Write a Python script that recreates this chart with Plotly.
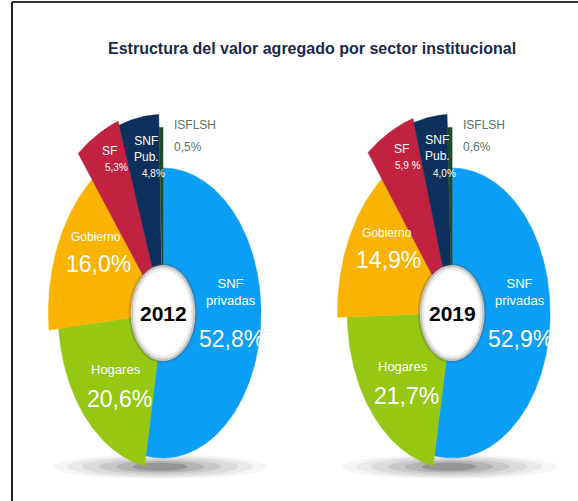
import numpy as np
import plotly.graph_objects as go

# ---------------- data ----------------
sectors = ["SNF privadas", "Hogares", "Gobierno", "SF", "SNF Pub.", "ISFLSH"]
sector_labels = ["SNF<br>privadas", "Hogares", "Gobierno", "SF", "SNF<br>Pub.", "ISFLSH"]
years = ["2012", "2019"]
values_2012 = [52.8, 20.6, 16.0, 5.3, 4.8, 0.5]
values_2019 = [52.9, 21.7, 14.9, 5.9, 4.0, 0.6]
value_text_2012 = ["52,8%", "20,6%", "16,0%", "5,3%", "4,8%", "0,5%"]
value_text_2019 = ["52,9%", "21,7%", "14,9%", "5,9 %", "4,0%", "0,6%"]
title = "Estructura del valor agregado por sector institucional"

# ---------------- style ----------------
FONT = "Liberation Sans, Arial, sans-serif"
COLORS = ["#0A9EF7", "#96C712", "#F9B300", "#C1223F", "#0C2F5C", "#1E4B2E"]
OUTER_R = [1.0, 1.07, 1.17, 1.40, 1.37, 1.28]   # visual radius of each wedge
INNER_R = 0.33
LABEL_R = [0.70, 0.66, 0.74, 1.14, 1.06, 1.22]
NAME_SIZE = [13, 13, 12, 12, 12, 12]
VALUE_SIZE = [23, 23, 23, 10, 10, 12]
NAME_SHIFT = [30, 9, 34, 17, 13, 11]
VALUE_SHIFT = [-17, -21, 7, 0, -12, -11]
NAME_XSHIFT = [0, 0, 0, 0, 2, 11]
VALUE_XSHIFT = [0, 4, 2, 7, 9, 11]
LABEL_COLORS = ["white"] * 5 + ["#587263"]
CENTERS = [0.0, 2.95]   # x position of each donut (axis units)

fig = go.Figure()
annotations = []
shapes = []

for year, vals, vtexts, cx in zip(years, [values_2012, values_2019],
                                  [value_text_2012, value_text_2019], CENTERS):
    # soft ground shadow
    for hw, hh, op in [(1.10, 0.085, 0.035), (0.95, 0.075, 0.05),
                       (0.8, 0.065, 0.06), (0.62, 0.052, 0.08),
                       (0.45, 0.04, 0.11), (0.28, 0.028, 0.16)]:
        shapes.append(dict(type="circle", xref="x", yref="y", layer="below",
                           x0=cx - 0.03 - hw, x1=cx - 0.03 + hw,
                           y0=-1.06 - hh, y1=-1.06 + hh,
                           fillcolor=f"rgba(0,0,0,{op})", line=dict(width=0)))
    total = sum(vals)
    start = 0.0
    for i, v in enumerate(vals):
        span = 360.0 * v / total
        th = np.radians(np.linspace(start, start + span, max(8, int(span * 2))))
        ro = OUTER_R[i]
        xs = np.concatenate([cx + ro * np.sin(th), cx + INNER_R * np.sin(th[::-1])])
        ys = np.concatenate([ro * np.cos(th), INNER_R * np.cos(th[::-1])])
        fig.add_trace(go.Scatter(
            x=np.append(xs, xs[0]), y=np.append(ys, ys[0]), mode="lines",
            fill="toself", fillcolor=COLORS[i],
            line=dict(color=COLORS[i], width=0.5),
            name=f"{sectors[i]} {year}", hoverinfo="text",
            text=f"{sectors[i]} ({year}): {vtexts[i]}", showlegend=False))
        mid = np.radians(start + span / 2)
        lx = cx + LABEL_R[i] * np.sin(mid)
        ly = LABEL_R[i] * np.cos(mid)
        xa = "left" if i == 5 else "center"
        annotations.append(dict(x=lx, y=ly, xref="x", yref="y", text=sector_labels[i],
                                showarrow=False, xanchor=xa, xshift=NAME_XSHIFT[i],
                                yshift=NAME_SHIFT[i],
                                font=dict(family=FONT, size=NAME_SIZE[i],
                                          color=LABEL_COLORS[i])))
        annotations.append(dict(x=lx, y=ly, xref="x", yref="y", text=vtexts[i],
                                showarrow=False, xanchor=xa, xshift=VALUE_XSHIFT[i],
                                yshift=VALUE_SHIFT[i],
                                font=dict(family=FONT, size=VALUE_SIZE[i],
                                          color=LABEL_COLORS[i])))
        start += span
    # hole with inner shading
    shapes.append(dict(type="circle", xref="x", yref="y", layer="above",
                       x0=cx - INNER_R, x1=cx + INNER_R, y0=-INNER_R, y1=INNER_R,
                       fillcolor="white", line=dict(color="rgba(90,90,90,0.30)", width=4)))
    shapes.append(dict(type="circle", xref="x", yref="y", layer="above",
                       x0=cx - INNER_R + 0.025, x1=cx + INNER_R - 0.025,
                       y0=-INNER_R + 0.02, y1=INNER_R - 0.02,
                       fillcolor="rgba(0,0,0,0)", line=dict(color="rgba(150,150,150,0.2)", width=4)))
    annotations.append(dict(x=cx, y=0, xref="x", yref="y", text=f"<b>{year}</b>",
                            showarrow=False,
                            font=dict(family=FONT, size=21, color="black")))

# title
annotations.append(dict(x=312 / 578, y=1 - 38 / 501, xref="paper", yref="paper",
                        text=f"<b>{title}</b>", showarrow=False,
                        font=dict(family=FONT, size=16, color="#1B2A4A")))

# frame lines (top and left)
shapes.append(dict(type="line", xref="paper", yref="paper", x0=12 / 578, x1=1.0,
                   y0=1 - 2 / 501, y1=1 - 2 / 501, line=dict(color="#333333", width=2)))
shapes.append(dict(type="line", xref="paper", yref="paper", x0=12 / 578, x1=12 / 578,
                   y0=0, y1=1 - 2 / 501, line=dict(color="#222222", width=2)))

fig.update_layout(
    width=578, height=501,
    margin=dict(l=0, r=0, t=0, b=0),
    paper_bgcolor="white", plot_bgcolor="white",
    xaxis=dict(range=[-163 / 98, (578 - 163) / 98], visible=False, fixedrange=True),
    yaxis=dict(range=[-(501 - 313) / 145, 313 / 145], visible=False, fixedrange=True),
    annotations=annotations, shapes=shapes, showlegend=False,
)

fig.write_html("out.html", config={"displayModeBar": False},
               post_script="document.body.style.margin='0px';")
